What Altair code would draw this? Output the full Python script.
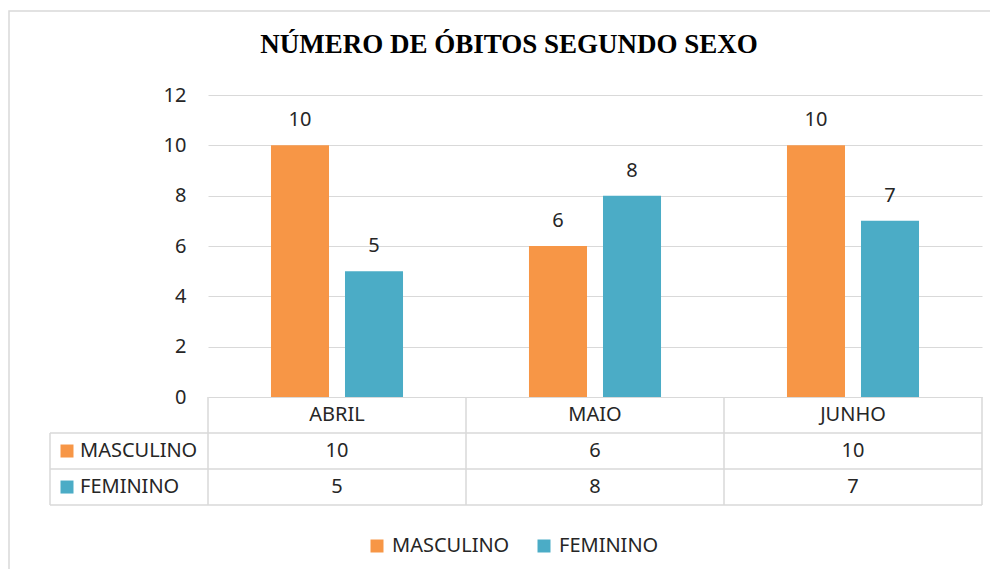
import altair as alt
import pandas as pd

months = ["ABRIL", "MAIO", "JUNHO"]
series = ["MASCULINO", "FEMININO"]
masculino = [10, 6, 10]
feminino = [5, 8, 7]
colors = ["#F79646", "#4BACC6"]
title_text = "NÚMERO DE ÓBITOS SEGUNDO SEXO"

# table row centres / lines (in y-scale units, below zero)
row_centre = {"MASCULINO": -2.145, "FEMININO": -3.576}
header_centre = -0.715
h_lines = [-1.43, -2.86, -4.29]
TABLE_BOTTOM = -4.29

W, H = 774, 410

rows = []
for s, vals in zip(series, [masculino, feminino]):
    for m, v in zip(months, vals):
        rows.append({"month": m, "series": s, "value": v, "base": 0, "row": row_centre[s]})
df = pd.DataFrame(rows)

FONT = "Noto Sans"
TXT = "#262626"
GRID = "#d9d9d9"
FS = 20

x_scale = alt.Scale(domain=months, paddingInner=0, paddingOuter=0)
y_scale = alt.Scale(domain=[-4.29, 12], nice=False, zero=False)
off_scale = alt.Scale(domain=series, paddingInner=0.216, paddingOuter=0.851)
color_scale = alt.Scale(domain=series, range=colors)

base = alt.Chart(df)

bars = base.mark_bar().encode(
    x=alt.X("month:N", scale=x_scale, axis=None, sort=months),
    xOffset=alt.XOffset("series:N", scale=off_scale, sort=series),
    y=alt.Y("value:Q", scale=y_scale,
            axis=alt.Axis(values=[0, 2, 4, 6, 8, 10, 12], title=None, domain=False,
                          ticks=False, tickSize=0, labelPadding=22, grid=True,
                          gridColor=GRID, gridWidth=1.2, labelFont=FONT,
                          labelFontSize=FS, labelColor=TXT)),
    y2="base:Q",
    color=alt.Color("series:N", scale=color_scale, sort=series,
                    legend=alt.Legend(orient="none", legendX=159, legendY=441,
                                      direction="horizontal", title=None,
                                      symbolType="square", symbolSize=169,
                                      symbolStrokeWidth=0, labelFontSize=FS,
                                      labelFont=FONT, labelColor=TXT,
                                      columnPadding=24, labelOffset=5, padding=0)),
)

bar_labels = base.mark_text(font=FONT, fontSize=FS, color=TXT, baseline="alphabetic", dy=-19).encode(
    x=alt.X("month:N", scale=x_scale, sort=months),
    xOffset=alt.XOffset("series:N", scale=off_scale, sort=series),
    y=alt.Y("value:Q", scale=y_scale),
    text="value:Q",
)

header = alt.Chart(pd.DataFrame({"month": months, "pos": [header_centre] * 3})).mark_text(
    font=FONT, fontSize=FS, color=TXT, baseline="middle").encode(
    x=alt.X("month:N", scale=x_scale, sort=months),
    y=alt.Y("pos:Q", scale=y_scale), text="month:N")

cells = base.mark_text(font=FONT, fontSize=FS, color=TXT, baseline="middle").encode(
    x=alt.X("month:N", scale=x_scale, sort=months),
    y=alt.Y("row:Q", scale=y_scale), text="value:Q")

row_df = pd.DataFrame({"series": series, "row": [row_centre[s] for s in series]})
row_keys = alt.Chart(row_df).mark_square(size=169, opacity=1).encode(
    x=alt.value(-141), y=alt.Y("row:Q", scale=y_scale),
    color=alt.Color("series:N", scale=color_scale, sort=series, legend=None))
row_text = alt.Chart(row_df).mark_text(font=FONT, fontSize=FS, color=TXT, align="left",
                                       baseline="middle").encode(
    x=alt.value(-128), y=alt.Y("row:Q", scale=y_scale), text="series:N")

# table grid
hl = alt.Chart(pd.DataFrame({"pos": h_lines})).mark_rule(color=GRID, strokeWidth=1.5).encode(
    y=alt.Y("pos:Q", scale=y_scale), x=alt.value(-158), x2=alt.value(W))

vlines = []
band = W / len(months)
for i in range(len(months) + 1):
    vlines.append(
        alt.Chart(pd.DataFrame({"top": [0], "bot": [TABLE_BOTTOM]})).mark_rule(
            color=GRID, strokeWidth=1.5).encode(
            x=alt.value(i * band), y=alt.Y("top:Q", scale=y_scale), y2="bot:Q"))
vleft = alt.Chart(pd.DataFrame({"top": [h_lines[0]], "bot": [TABLE_BOTTOM]})).mark_rule(
    color=GRID, strokeWidth=1.5).encode(
    x=alt.value(-158), y=alt.Y("top:Q", scale=y_scale), y2="bot:Q")

frame = alt.Chart(pd.DataFrame({"k": [1]})).mark_rect(fill="white", fillOpacity=0, stroke=GRID,
                                                     strokeWidth=1.5).encode(
    x=alt.value(-199), x2=alt.value(820), y=alt.value(-84), y2=alt.value(500))

chart = alt.layer(frame, hl, *vlines, vleft, bars, bar_labels, header, cells, row_keys, row_text).properties(
    width=W, height=H,
    title=alt.TitleParams(title_text, font="Liberation Serif", fontSize=27, fontWeight="bold",
                          color="#000000", anchor="middle", dx=-86, offset=-70,
                          baseline="alphabetic"),
    autosize=alt.AutoSizeParams(type="none"),
    padding={"left": 200, "top": 87, "right": 8, "bottom": 64},
).configure_view(strokeWidth=0)

chart.save("out.html", embed_options={"renderer": "svg", "actions": False})
